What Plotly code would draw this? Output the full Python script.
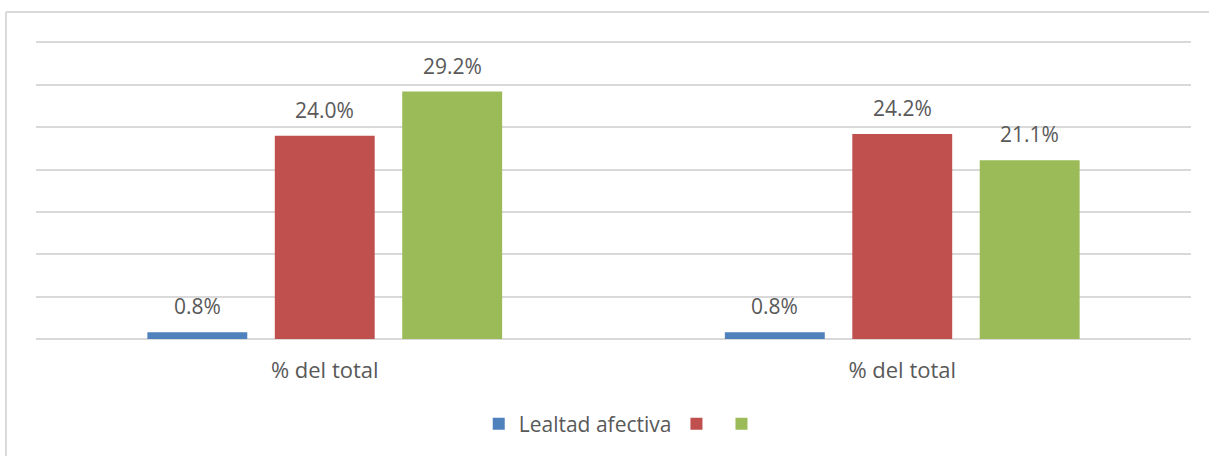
import plotly.graph_objects as go

# Chart data
categories = ["% del total", "% del total"]
series_names = ["Lealtad afectiva", "", ""]
series_values = [
    [0.8, 0.8],
    [24.0, 24.2],
    [29.2, 21.1],
]
series_colors = ["#4f81bd", "#c0504d", "#9bbb59"]

FONT = "Open Sans, Liberation Sans, Arial, sans-serif"
TEXT_COLOR = "#595959"
GRID = "#d9d9d9"
BARGAP = 0.338
n_series = len(series_values)
slot = (1 - BARGAP) / n_series

x_pos = list(range(len(categories)))

fig = go.Figure()
annotations = []
for i, (name, vals, color) in enumerate(zip(series_names, series_values, series_colors)):
    fig.add_trace(go.Bar(
        x=x_pos, y=vals, name=name,
        marker=dict(color=color, line=dict(width=0)),
        showlegend=True,
    ))
    for xc, v in zip(x_pos, vals):
        annotations.append(dict(
            x=xc + (i - (n_series - 1) / 2) * slot, y=v,
            xref="x", yref="y",
            text=f"{v:.1f}%", showarrow=False,
            yanchor="bottom", yshift=10,
            font=dict(family=FONT, size=21, color=TEXT_COLOR),
        ))

# Outer frame: only the top and left edges fall inside the page
frame = dict(color=GRID, width=2)
shapes = [
    dict(type="line", xref="paper", yref="paper",
         x0=-0.026, x1=1.016, y0=1.072, y1=1.072, line=frame, layer="below"),
    dict(type="line", xref="paper", yref="paper",
         x0=-0.026, x1=-0.026, y0=-0.8, y1=1.072, line=frame, layer="below"),
]

fig.update_layout(
    width=1209, height=456,
    margin=dict(l=36, r=18, t=34, b=116),
    paper_bgcolor="white", plot_bgcolor="white",
    barmode="group", bargap=BARGAP, bargroupgap=0.216,
    font=dict(family=FONT, size=21, color=TEXT_COLOR),
    annotations=annotations,
    legend=dict(
        orientation="h", x=0.508, xanchor="center", y=-0.275, yanchor="middle",
        font=dict(family=FONT, size=21, color=TEXT_COLOR),
        itemwidth=30, traceorder="normal",
    ),
    shapes=shapes,
)
fig.update_xaxes(
    tickmode="array", tickvals=x_pos, ticktext=categories,
    range=[-0.5, len(categories) - 0.5],
    showgrid=False, zeroline=False, showline=False, ticks="",
    tickfont=dict(family=FONT, size=22, color=TEXT_COLOR),
    ticklabelstandoff=16,
)
fig.update_yaxes(
    range=[0, 36], tickvals=[0, 5, 10, 15, 20, 25, 30, 35], showticklabels=False,
    showgrid=True, gridcolor=GRID, gridwidth=1.5,
    zeroline=True, zerolinecolor=GRID, zerolinewidth=1.5,
)

fig.write_html("out.html")
